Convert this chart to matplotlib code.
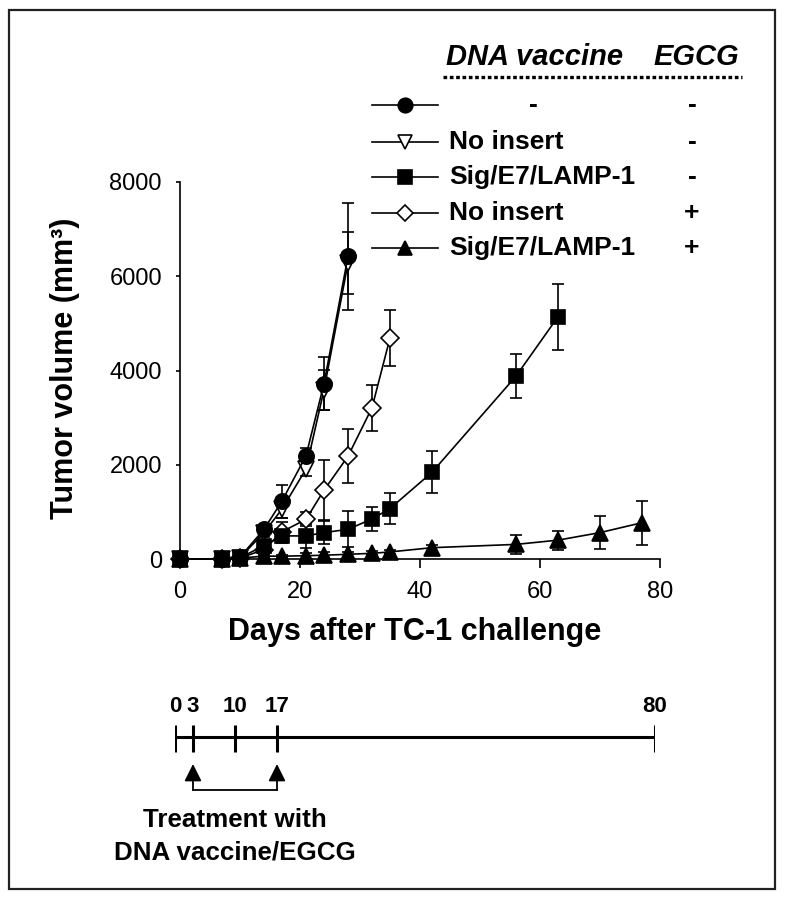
import matplotlib
matplotlib.use('Agg')
import matplotlib.pyplot as plt
from matplotlib.patches import Rectangle

plt.rcParams['font.family'] = ['Liberation Sans', 'DejaVu Sans']

# ---------------- data ----------------
days_ctrl = [0, 7, 10, 14, 17, 21, 24, 28]
ctrl = [0, 0, 40, 630, 1230, 2190, 3720, 6420]
ctrl_err = [0, 0, 30, 100, 350, 170, 560, 1130]

noins = [0, 0, 30, 560, 1060, 1910, 3590, 6280]
noins_err = [0, 0, 20, 100, 200, 150, 420, 660]

days_noins_egcg = [0, 7, 10, 14, 17, 21, 24, 28, 32, 35]
noins_egcg = [0, 0, 20, 200, 580, 840, 1460, 2180, 3210, 4690]
noins_egcg_err = [0, 0, 10, 80, 200, 150, 640, 570, 490, 590]

days_sig = [0, 7, 10, 14, 17, 21, 24, 28, 32, 35, 42, 56, 63]
sig = [0, 0, 30, 280, 490, 490, 560, 630, 850, 1070, 1840, 3880, 5140]
sig_err = [0, 0, 10, 80, 150, 250, 250, 380, 250, 320, 450, 460, 700]

days_sig_egcg = [0, 7, 10, 14, 17, 21, 24, 28, 32, 35, 42, 56, 63, 70, 77]
sig_egcg = [0, 0, 20, 60, 60, 70, 80, 100, 120, 150, 240, 310, 400, 560, 770]
sig_egcg_err = [0, 0, 10, 20, 20, 60, 60, 50, 40, 40, 60, 200, 200, 350, 470]

x_ticks = [0, 20, 40, 60, 80]
y_ticks = [0, 2000, 4000, 6000, 8000]

legend_vaccine = ['-', 'No insert', 'Sig/E7/LAMP-1', 'No insert', 'Sig/E7/LAMP-1']
legend_egcg = ['-', '-', '-', '+', '+']

timeline_days = [0, 3, 10, 17, 80]
treatment_start, treatment_end = 3, 17

# ---------------- figure ----------------
fig = plt.figure(figsize=(7.85, 9), dpi=100)
W, H = 785, 900
ax = fig.add_axes([180 / W, 1 - 559 / H, 480 / W, (559 - 182) / H])

styles = [
    dict(marker='v', ms=11, mfc='white'),
    dict(marker='D', ms=9, mfc='white'),
    dict(marker='s', ms=10, mfc='black'),
    dict(marker='^', ms=11, mfc='black'),
    dict(marker='o', ms=11, mfc='black'),
]
series = [
    (days_ctrl, noins, noins_err),
    (days_noins_egcg, noins_egcg, noins_egcg_err),
    (days_sig, sig, sig_err),
    (days_sig_egcg, sig_egcg, sig_egcg_err),
    (days_ctrl, ctrl, ctrl_err),
]
for (d, v, e), st in zip(series, styles):
    cont = ax.errorbar(d, v, yerr=e, color='black', lw=1.2, mec='black', mew=1.2,
                       elinewidth=1.2, capsize=4.5, capthick=1.2, **st)
    for art in cont.get_children():
        art.set_clip_on(False)

ax.set_xlim(0, 80)
ax.set_ylim(0, 8000)
ax.set_xticks(x_ticks)
ax.set_yticks(y_ticks)
ax.tick_params(axis='x', length=6.5, width=1.2, pad=9, labelsize=17)
ax.tick_params(axis='y', length=3, width=1.2, pad=10, labelsize=17)
for s in ['top', 'right']:
    ax.spines[s].set_visible(False)
for s in ['left', 'bottom']:
    ax.spines[s].set_linewidth(1.2)

# ---------------- overlay (pixel coordinates) ----------------
ov = fig.add_axes([0, 0, 1, 1])
ov.set_xlim(0, W)
ov.set_ylim(H, 0)
ov.axis('off')

ov.add_patch(Rectangle((9, 10), 766, 879, fill=False, lw=1.6, ec='#222222'))

ov.text(415, 640, 'Days after TC-1 challenge', fontsize=22, fontweight='bold',
        ha='center', va='baseline')
ov.text(65, 368, 'Tumor volume (mm³)', fontsize=22, fontweight='bold',
        ha='center', va='center', rotation=90)

# legend header
ov.text(535, 65, 'DNA vaccine', fontsize=21, fontweight='bold', style='italic',
        ha='center', va='baseline')
ov.text(696, 65, 'EGCG', fontsize=21, fontweight='bold', style='italic',
        ha='center', va='baseline')
ov.plot([443, 742], [77, 77], color='black', lw=2.4, ls=(0, (1.1, 0.8)),
        solid_capstyle='butt', dash_capstyle='butt')

leg_styles = [styles[4], styles[0], styles[2], styles[1], styles[3]]
row_y = [105, 142, 177, 213, 248]
for yy, st, vac, eg in zip(row_y, leg_styles, legend_vaccine, legend_egcg):
    ov.plot([372, 438], [yy, yy], color='black', lw=1.2)
    st2 = dict(st)
    st2['ms'] = st2['ms'] * 0.95
    ov.plot([405], [yy], color='black', mec='black', mew=1.2, ls='none', **st2)
    if vac == '-':
        ov.text(533, yy, vac, fontsize=19, fontweight='bold', ha='center', va='center')
    else:
        ov.text(449, yy, vac, fontsize=19, fontweight='bold', ha='left', va='center')
    ov.text(692, yy, eg, fontsize=19, fontweight='bold', ha='center', va='center')

# ---------------- timeline ----------------
tl = fig.add_axes([175 / W, 0, 480 / W, 1])
tl.set_xlim(0, 80)
tl.set_ylim(H, 0)
tl.axis('off')
tl.plot([timeline_days[0], timeline_days[-1]], [737, 737], color='black', lw=2.2,
        solid_capstyle='butt')
for d in timeline_days:
    tl.plot([d, d], [725, 752], color='black', lw=2.2, solid_capstyle='butt')
    tl.text(d, 706, str(d), fontsize=16, fontweight='bold', ha='center', va='center')
for d in (treatment_start, treatment_end):
    tl.annotate('', xy=(d, 764), xytext=(d, 790),
                arrowprops=dict(arrowstyle='-|>', color='black', lw=1.3,
                                mutation_scale=26, shrinkA=0, shrinkB=0))
tl.plot([treatment_start, treatment_end], [789.5, 789.5], color='black', lw=1.3)
mid = (treatment_start + treatment_end) / 2
tl.text(mid, 820, 'Treatment with', fontsize=18.7, fontweight='bold', ha='center', va='center')
tl.text(mid, 852, 'DNA vaccine/EGCG', fontsize=18.7, fontweight='bold', ha='center', va='center')

fig.savefig('out.png', dpi=100)
